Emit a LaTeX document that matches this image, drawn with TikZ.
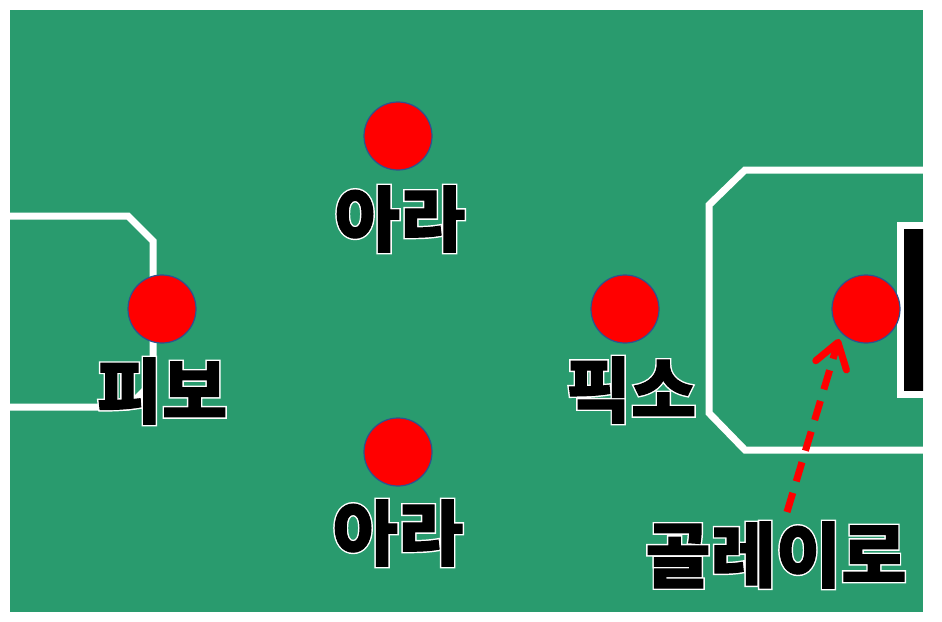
\documentclass[tikz,border=0pt]{standalone}
\usepackage{fontspec}
\usetikzlibrary{arrows.meta}
\newfontfamily\krfont[FakeBold=1.4]{Noto Sans CJK KR}
\newfontfamily\krout[FakeBold=5.5]{Noto Sans CJK KR}
\newcommand{\outl}[1]{\rlap{\krout\bfseries\color{white}#1}{\krfont\bfseries\color{black}#1}}
\definecolor{field}{RGB}{41,155,110}
\definecolor{ring}{RGB}{47,82,143}
\tikzset{
  player/.style={circle, fill=red, draw=ring, line width=1.2pt, minimum size=68pt, inner sep=0pt},
  lbl/.style={inner sep=0pt, font=\fontsize{71pt}{71pt}\selectfont},
  fieldline/.style={draw=white, line width=7pt, line join=miter},
  pass/.style={draw=red, line width=7pt, dash pattern=on 20pt off 12pt, -{Straight Barb[length=24pt, width=32pt, round]}}
}
\begin{document}
\begin{tikzpicture}[x=1pt, y=-1pt]
\useasboundingbox (0,0) rectangle (942,621);
\fill[white] (0,0) rectangle (942,621);
\fill[field] (10,10) rectangle (923,612);
\begin{scope}
\clip (10,10) rectangle (923,612);
% left penalty box
\draw[fieldline] (0,216) -- (128,216) -- (153,241) -- (153,382) -- (128,407) -- (0,407);
% right penalty box
\draw[fieldline] (940,170) -- (745,170) -- (709,205) -- (709,413) -- (745,450) -- (940,450);
% goal
\fill[white] (897,222) rectangle (940,398);
\fill[black] (904,229) rectangle (940,391);
\end{scope}
% players
\node[player] (am1) at (398,136) {};
\node[player] (pivo) at (162,309) {};
\node[player] (fixo) at (625,309) {};
\node[player] (gk) at (866,309) {};
\node[player] (am2) at (398,452) {};
% labels
\node[lbl] (lam1) at (400,219) {\outl{아라}};
\node[lbl] (lpivo) at (162,391) {\outl{피보}};
\node[lbl] (lfixo) at (631,390) {\outl{픽소}};
\node[lbl] (lam2) at (398,533) {\outl{아라}};
\node[lbl] (lgk) at (776,555) {\outl{골레이로}};
% pass arrow
\coordinate (astart) at (787,512);
\coordinate (aend) at (839,339);
\draw[pass] (astart) -- (aend);
\end{tikzpicture}
\end{document}
